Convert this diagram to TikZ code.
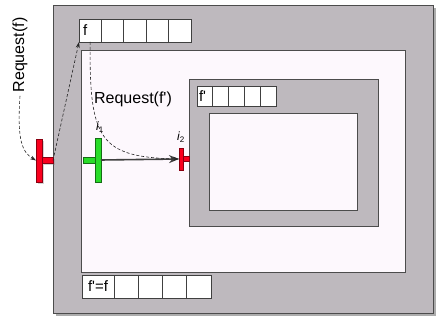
\documentclass[tikz,border=0pt]{standalone}
\usepackage{fontspec}
\setmainfont{Liberation Sans}
\usetikzlibrary{positioning, arrows.meta, shadows}
\definecolor{boxgray}{RGB}{190,185,190}
\definecolor{paper}{RGB}{253,248,253}
\definecolor{tred}{RGB}{250,0,30}
\definecolor{tgreen}{RGB}{40,220,40}
\tikzset{
    graybox/.style={rectangle, anchor=north west, inner sep=0pt, draw=black!70, line width=0.8pt, fill=boxgray},
    paperbox/.style={rectangle, anchor=north west, inner sep=0pt, draw=black!70, line width=0.8pt, fill=paper},
    cell/.style={rectangle, inner sep=0pt, outer sep=0pt, draw=black!75, line width=0.7pt, fill=white, font=\fontsize{15}{18}\selectfont},
    topcell/.style={cell, minimum width=22.4pt, minimum height=23pt},
    midcell/.style={cell, minimum width=15.8pt, minimum height=20pt},
    lowcell/.style={cell, minimum width=24.25pt, minimum height=23pt},
    tbar/.style={rectangle, inner sep=0pt, outer sep=0pt, line width=0.7pt},
    tag/.style={inner sep=0pt, font=\fontsize{12}{14}\selectfont},
    push/.style={line width=1.6pt, draw=black!75, -{Stealth[length=10pt, width=8pt]}},
    request/.style={dash pattern=on 3pt off 2pt, line width=0.6pt, draw=black!85, -{Stealth[length=6pt, width=4pt]}}
}
\begin{document}
\begin{tikzpicture}[x=1pt, y=-1pt, font=\fontsize{16}{19}\selectfont]
\useasboundingbox (0,0) rectangle (437,320);

% Boxes
\node (outer) [graybox, minimum width=380pt, minimum height=308pt, drop shadow={shadow xshift=3pt, shadow yshift=-3pt, fill=black!65}] at (53,5) {};
\node (level1) [paperbox, minimum width=324pt, minimum height=222pt] at (81,50) {};
\node (level2) [graybox, minimum width=189pt, minimum height=147pt] at (189,79) {};
\node (level3) [paperbox, minimum width=148pt, minimum height=97pt] at (209,113) {};

% Queues
\node (qa1) [topcell, anchor=north west, inner xsep=4pt, text width=14.4pt, align=left] at (79,19) {f};
\node (qa2) [topcell, right=0pt of qa1] {};
\node (qa3) [topcell, right=0pt of qa2] {};
\node (qa4) [topcell, right=0pt of qa3] {};
\node (qa5) [topcell, right=0pt of qa4] {};

\node (qb1) [midcell, anchor=north west, inner xsep=2pt, text width=11.8pt, align=left] at (197,86) {f\textquotesingle};
\node (qb2) [midcell, right=0pt of qb1] {};
\node (qb3) [midcell, right=0pt of qb2] {};
\node (qb4) [midcell, right=0pt of qb3] {};
\node (qb5) [midcell, right=0pt of qb4] {};

\node (qc1) [lowcell, anchor=north west, minimum width=32pt] at (82,275) {f\textquotesingle=f};
\node (qc2) [lowcell, right=0pt of qc1] {};
\node (qc3) [lowcell, right=0pt of qc2] {};
\node (qc4) [lowcell, right=0pt of qc3] {};
\node (qc5) [lowcell, right=0pt of qc4] {};

% Interfaces
\node (redbar) [tbar, draw=tred!55!black, fill=tred, minimum width=6pt, minimum height=43pt, drop shadow={shadow xshift=2pt, shadow yshift=-2pt, opacity=0.35}] at (39,160.5) {};
\node (redarm) [tbar, draw=tred!55!black, fill=tred, minimum width=11pt, minimum height=6pt, right=0pt of redbar, drop shadow={shadow xshift=2pt, shadow yshift=-2pt, opacity=0.35}] {};

\node (greenbar) [tbar, draw=tgreen!50!black, fill=tgreen, minimum width=6pt, minimum height=44pt] at (98,160) {};
\node (greenarm) [tbar, draw=tgreen!50!black, fill=tgreen, minimum width=12pt, minimum height=6pt, left=0pt of greenbar] {};

\node (minibar) [tbar, draw=tred!55!black, fill=tred, minimum width=4pt, minimum height=22pt] at (181,159) {};
\node (miniarm) [tbar, draw=tred!55!black, fill=tred, minimum width=6pt, minimum height=5pt, right=0pt of minibar] {};

% Labels
\node (i1) [tag, above=5pt of greenbar, xshift=2pt] {\textit{i}\textsubscript{1}};
\node (i2) [tag, above=5pt of minibar] {\textit{i}\textsubscript{2}};
\node (reqinner) at (133,99) {Request(f\textquotesingle)};
\node (reqouter) [rotate=90] at (20,55) {Request(f)};

% Connectors
\draw [push] (greenbar.east) -- (minibar.west);
\draw [request] (reqouter.west) .. controls (17,140) and (22,152) .. (redbar.west);
\draw [request] (redarm.east) -- (qa1.south west);
\draw [request] (qa1.south) .. controls (89,140) and (100,157) .. (minibar.west);

\end{tikzpicture}
\end{document}
